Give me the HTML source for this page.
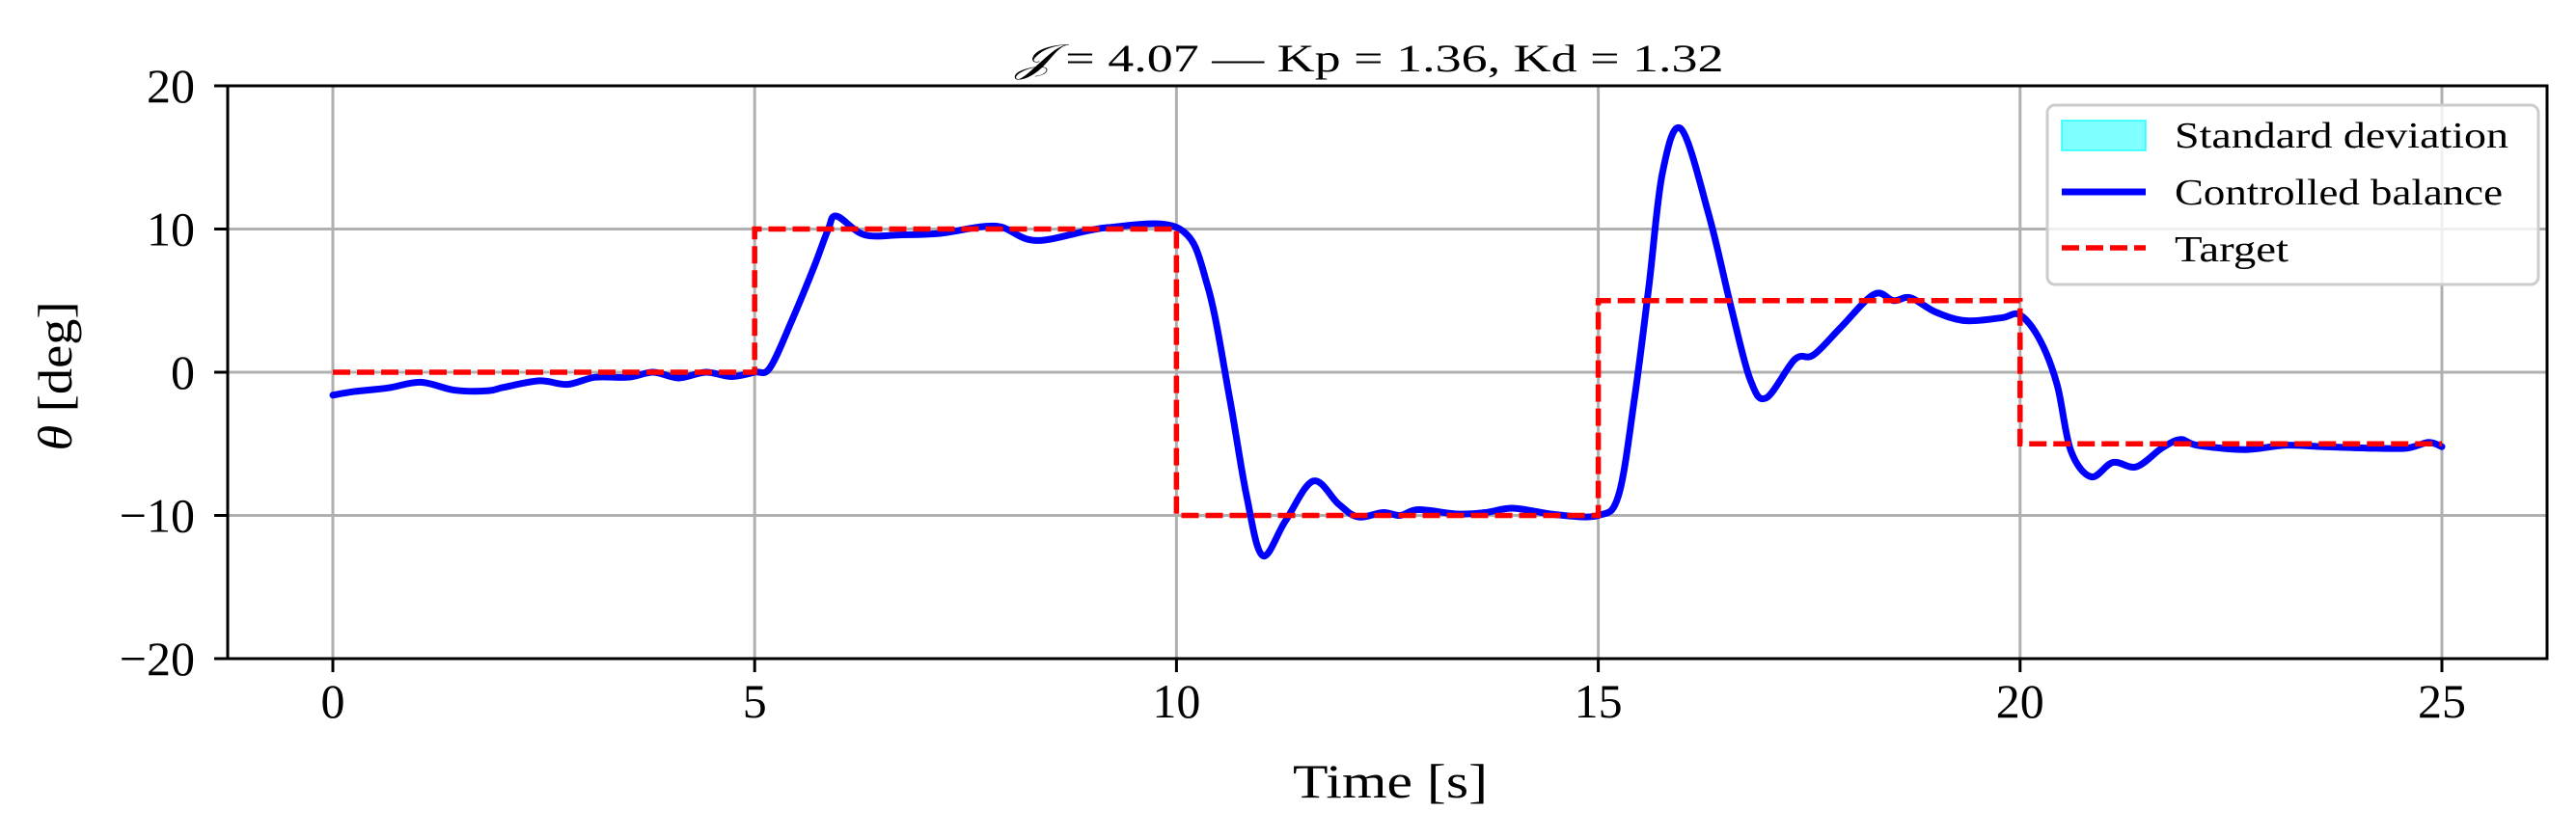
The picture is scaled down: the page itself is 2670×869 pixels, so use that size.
<!DOCTYPE html>
<html><head><meta charset="utf-8"><style>
html,body{margin:0;padding:0;background:#fff;}
svg{display:block;font-family:"Liberation Serif","DejaVu Serif",serif;}
</style></head><body>
<svg id="chart" width="2670" height="869" viewBox="0 0 2670 869">
<rect x="0" y="0" width="2670" height="869" fill="#fff"/>
<g id="grid"></g>
<g id="series"></g>
<rect x="236" y="89" width="2404" height="594" fill="none" stroke="#000" stroke-width="3"/>
<g id="ticks"></g>
<text x="1420" y="74" font-size="40" text-anchor="middle" textLength="733" lengthAdjust="spacingAndGlyphs"><tspan font-style="italic">𝒥</tspan> = 4.07 — Kp = 1.36, Kd = 1.32</text>
<text x="1441" y="827" font-size="50" text-anchor="middle" textLength="202" lengthAdjust="spacingAndGlyphs">Time [s]</text>
<text transform="translate(74,390) rotate(-90)" font-size="50" text-anchor="middle" textLength="155" lengthAdjust="spacingAndGlyphs"><tspan font-style="italic">θ</tspan> [deg]</text>
<g>
<rect x="2122" y="109" width="509" height="186" rx="8" fill="#fff" fill-opacity="0.8" stroke="#ccc" stroke-width="3"/>
<rect x="2137" y="125" width="87" height="31" fill="#00ffff" fill-opacity="0.5" stroke="#00ffff" stroke-opacity="0.6" stroke-width="2"/>
<text x="2254" y="153" font-size="38" textLength="346" lengthAdjust="spacingAndGlyphs">Standard deviation</text>
<line x1="2137" y1="199" x2="2224" y2="199" stroke="#0000ff" stroke-width="7"/>
<text x="2254" y="212" font-size="38" textLength="340" lengthAdjust="spacingAndGlyphs">Controlled balance</text>
<line x1="2137" y1="257" x2="2224" y2="257" stroke="#ff0000" stroke-width="5.5" stroke-dasharray="18,7"/>
<text x="2254" y="271" font-size="38" textLength="118" lengthAdjust="spacingAndGlyphs">Target</text>
</g>
</svg>
<script>
const xTicks = [0, 5, 10, 15, 20, 25];
const yTicks = [-20, -10, 0, 10, 20];
const yTickLabels = ["\u221220", "\u221210", "0", "10", "20"];
const targetTimes = [0, 5, 10, 15, 20, 25];
const targetValues = [0, 10, -10, 5, -5];
const timeS = [0,0.25,0.65,1.04,1.44,1.83,2.03,2.45,2.78,3.11,3.5,3.8,4.1,4.42,4.72,5.0,5.18,5.44,5.7,5.87,5.97,6.3,6.75,7.2,7.86,8.34,9.18,10.04,10.37,10.63,10.83,11.02,11.29,11.62,11.92,12.15,12.45,12.65,12.87,13.33,13.66,14.0,14.5,15.0,15.24,15.43,15.6,15.76,15.98,16.31,16.57,16.8,16.99,17.33,17.55,17.87,18.27,18.5,18.7,19.0,19.35,19.78,20.0,20.24,20.44,20.6,20.84,21.1,21.38,21.68,21.9,22.1,22.67,23.14,23.6,24.12,24.58,24.84,25.0];
const thetaDeg = [-1.6,-1.35,-1.1,-0.7,-1.25,-1.3,-1.05,-0.6,-0.85,-0.35,-0.35,0,-0.4,0,-0.3,0,0.3,3.6,7.3,9.95,10.9,9.6,9.6,9.7,10.2,9.2,10.1,10.0,6.0,-1.8,-8.6,-12.8,-10.4,-7.6,-9.2,-10.1,-9.8,-10.0,-9.6,-9.9,-9.8,-9.5,-9.95,-10,-8.6,-1.8,6.0,13.9,17.0,11.0,4.65,-0.5,-1.8,0.9,1.2,3.1,5.45,5.0,5.2,4.2,3.6,3.8,4.0,2.2,-0.9,-5.45,-7.3,-6.3,-6.6,-5.3,-4.7,-5.1,-5.4,-5.1,-5.2,-5.3,-5.3,-4.9,-5.2];

const NS = "http://www.w3.org/2000/svg";
const X0 = 345, XS = 87.44, Y0 = 89, YS = 14.85;
function sx(t){ return X0 + t * XS; }
function sy(v){ return Y0 + (20 - v) * YS; }
function mk(tag, attrs, parent){ const e = document.createElementNS(NS, tag); for (const k in attrs) e.setAttribute(k, attrs[k]); parent.appendChild(e); return e; }
const grid = document.getElementById('grid');
const ticks = document.getElementById('ticks');
const series = document.getElementById('series');

xTicks.forEach(t => {
  const g = mk('line', {x1: sx(t), x2: sx(t), y1: 89, y2: 683, stroke: '#b0b0b0', 'stroke-width': 3}, grid);
  
  
  const tk = mk('line', {x1: sx(t), x2: sx(t), y1: 683, y2: 697, stroke: '#000', 'stroke-width': 3}, ticks);
  
  
  const lb = mk('text', {x: sx(t), y: 744, 'font-size': 50, 'text-anchor': 'middle'}, ticks);
  lb.textContent = String(t);
  
  
});
yTicks.forEach((v, i) => {
  if (v > -20 && v < 20) {
    const g = mk('line', {x1: 236, x2: 2640, y1: sy(v), y2: sy(v), stroke: '#b0b0b0', 'stroke-width': 3}, grid);
    
    
  }
  const tk = mk('line', {x1: 222, x2: 236, y1: sy(v), y2: sy(v), stroke: '#000', 'stroke-width': 3}, ticks);
  
  
  const lb = mk('text', {x: 202, y: sy(v) + 17, 'font-size': 50, 'text-anchor': 'end'}, ticks);
  lb.textContent = yTickLabels[i];
  
  
});

const pts = timeS.map((t, i) => [sx(t), sy(thetaDeg[i])]);
let d = 'M' + pts[0][0] + ',' + pts[0][1];
for (let i = 0; i < pts.length - 1; i++) {
  const p0 = pts[Math.max(0, i - 1)], p1 = pts[i], p2 = pts[i + 1], p3 = pts[Math.min(pts.length - 1, i + 2)];
  const c1x = p1[0] + (p2[0] - p0[0]) / 6, c1y = p1[1] + (p2[1] - p0[1]) / 6;
  const c2x = p2[0] - (p3[0] - p1[0]) / 6, c2y = p2[1] - (p3[1] - p1[1]) / 6;
  d += ' C' + c1x + ',' + c1y + ' ' + c2x + ',' + c2y + ' ' + p2[0] + ',' + p2[1];
}
const curve = mk('path', {d: d, fill: 'none', stroke: '#0000ff', 'stroke-width': 7, 'stroke-linejoin': 'round', 'stroke-linecap': 'round'}, series);



let td = '';
for (let i = 0; i < targetValues.length; i++) {
  td += (i === 0 ? 'M' : ' L') + sx(targetTimes[i]) + ',' + sy(targetValues[i]);
  td += ' L' + sx(targetTimes[i + 1]) + ',' + sy(targetValues[i]);
}
const tgt = mk('path', {d: td, fill: 'none', stroke: '#ff0000', 'stroke-width': 5.5, 'stroke-dasharray': '18,7'}, series);


</script>
</body></html>
